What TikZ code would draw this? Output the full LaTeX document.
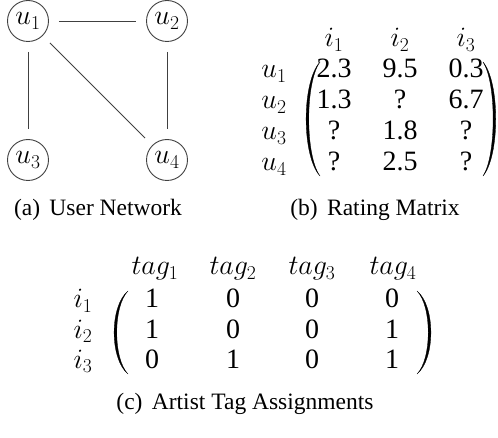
\documentclass[tikz,border=0pt]{standalone}
\usepackage{fix-cm}
\usepackage[no-math]{fontspec}
\setmainfont{Liberation Serif}
\tikzset{
  mfont/.style={font=\fontsize{28}{34}\selectfont},
  unode/.style={circle,draw=black!75,line width=0.9pt,minimum size=41pt,inner sep=0pt,mfont},
  edge/.style={draw=black!75,line width=0.9pt,shorten >=10pt,shorten <=10pt},
  lbl/.style={anchor=base,inner sep=0pt},
  mlbl/.style={anchor=base,inner sep=0pt,mfont},
  parenshape/.style={fill=black,draw=black,line width=0.3pt,line join=round}
}
\begin{document}
\begin{tikzpicture}[x=1pt,y=-1pt,font=\fontsize{23.5}{28}\selectfont]
\useasboundingbox (0,0) rectangle (498,438);
% (a) user network
\node[unode] (u1) at (28,21) {$u_1$};
\node[unode] (u2) at (167,21) {$u_2$};
\node[unode] (u3) at (28,160) {$u_3$};
\node[unode] (u4) at (167,160) {$u_4$};
\draw[edge] (u1) -- (u2);
\draw[edge] (u1) -- (u3);
\draw[edge] (u2) -- (u4);
\draw[edge] (u1) -- (u4);
\node[lbl] (capa) at (98,216) {(a)\hspace{0.4em}User Network};
% (b) rating matrix
\node[mlbl] (bi1) at (334,47) {$i_1$};
\node[mlbl] (bi2) at (400,47) {$i_2$};
\node[mlbl] (bi3) at (466,47) {$i_3$};
\node[mlbl] (bu1) at (274,78) {$u_1$};
\node[mlbl] (bu2) at (274,109) {$u_2$};
\node[mlbl] (bu3) at (274,140) {$u_3$};
\node[mlbl] (bu4) at (274,171) {$u_4$};
\node[mlbl] (b11) at (334,78) {2.3};
\node[mlbl] (b12) at (400,78) {9.5};
\node[mlbl] (b13) at (466,78) {0.3};
\node[mlbl] (b21) at (334,109) {1.3};
\node[mlbl] (b22) at (400,109) {?};
\node[mlbl] (b23) at (466,109) {6.7};
\node[mlbl] (b31) at (334,140) {?};
\node[mlbl] (b32) at (400,140) {1.8};
\node[mlbl] (b33) at (466,140) {?};
\node[mlbl] (b41) at (334,171) {?};
\node[mlbl] (b42) at (400,171) {2.5};
\node[mlbl] (b43) at (466,171) {?};
\path[parenshape] (320,62) .. controls (301.5,82) and (301.5,156) .. (320,176)
  .. controls (305,156) and (305,82) .. cycle;
\path[parenshape] (483,62) .. controls (500,82) and (500,156) .. (483,176)
  .. controls (496.5,156) and (496.5,82) .. cycle;
\node[lbl] (capb) at (375,216) {(b)\hspace{0.4em}Rating Matrix};
% (c) artist tag assignments
\node[mlbl] (t1) at (155,275) {$tag_1$};
\node[mlbl] (t2) at (233,275) {$tag_2$};
\node[mlbl] (t3) at (312,275) {$tag_3$};
\node[mlbl] (t4) at (393,275) {$tag_4$};
\node[mlbl] (ci1) at (83,308) {$i_1$};
\node[mlbl] (ci2) at (83,338) {$i_2$};
\node[mlbl] (ci3) at (83,368) {$i_3$};
\node[mlbl] (c11) at (152,308) {1};
\node[mlbl] (c12) at (233,308) {0};
\node[mlbl] (c13) at (312,308) {0};
\node[mlbl] (c14) at (392,308) {0};
\node[mlbl] (c21) at (152,338) {1};
\node[mlbl] (c22) at (233,338) {0};
\node[mlbl] (c23) at (312,338) {0};
\node[mlbl] (c24) at (392,338) {1};
\node[mlbl] (c31) at (152,368) {0};
\node[mlbl] (c32) at (233,368) {1};
\node[mlbl] (c33) at (312,368) {0};
\node[mlbl] (c34) at (392,368) {1};
\path[parenshape] (128,291) .. controls (109.5,306) and (109.5,359) .. (128,374)
  .. controls (113,359) and (113,306) .. cycle;
\path[parenshape] (417,291) .. controls (435.5,306) and (435.5,359) .. (417,374)
  .. controls (432,359) and (432,306) .. cycle;
\node[lbl] (capc) at (245,409) {(c)\hspace{0.4em}Artist Tag Assignments};
\end{tikzpicture}
\end{document}
